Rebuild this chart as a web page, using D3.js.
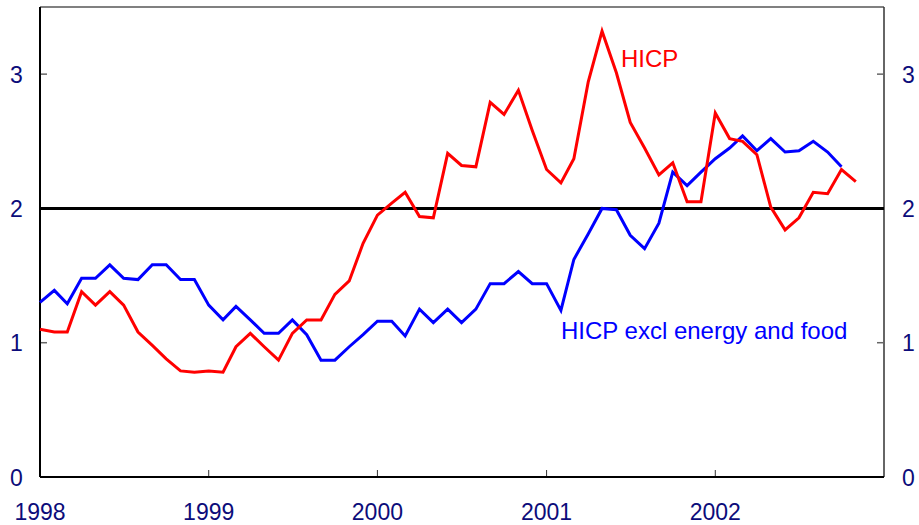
<!DOCTYPE html>
<html>
<head>
<meta charset="utf-8">
<script src="https://cdn.jsdelivr.net/npm/d3@7"></script>
<style>
    body { margin: 0; background: #fff; }
    svg { display: block; }
    text { font-family: Arial, "Liberation Sans", sans-serif; }
</style>
</head>
<body>
<svg id="visualization" width="919" height="525"></svg>
<script>
// monthly, Jan 1998 onwards
const startMonth = new Date(1998, 0, 1);
const hicp = [
    1.10, 1.08, 1.08, 1.38, 1.28, 1.38, 1.28, 1.08, 0.98, 0.88, 0.79, 0.78,
    0.79, 0.78, 0.97, 1.07, 0.97, 0.87, 1.07, 1.17, 1.17, 1.36, 1.46, 1.74,
    1.95, 2.04, 2.12, 1.94, 1.93, 2.41, 2.32, 2.31, 2.79, 2.70, 2.88, 2.58,
    2.29, 2.19, 2.37, 2.94, 3.32, 3.01, 2.64, 2.45, 2.25, 2.34, 2.05, 2.05,
    2.71, 2.52, 2.50, 2.40, 2.01, 1.84, 1.93, 2.12, 2.11, 2.29, 2.20
];
const hicpCore = [
    1.30, 1.39, 1.29, 1.48, 1.48, 1.58, 1.48, 1.47, 1.58, 1.58, 1.47, 1.47,
    1.28, 1.17, 1.27, 1.17, 1.07, 1.07, 1.17, 1.06, 0.87, 0.87, 0.97, 1.06,
    1.16, 1.16, 1.05, 1.25, 1.15, 1.25, 1.15, 1.25, 1.44, 1.44, 1.53, 1.44,
    1.44, 1.24, 1.62, 1.81, 2.00, 1.99, 1.80, 1.70, 1.89, 2.27, 2.17, 2.27,
    2.37, 2.45, 2.54, 2.43, 2.52, 2.42, 2.43, 2.50, 2.42, 2.31
];
const yearTicks = [1998, 1999, 2000, 2001, 2002];
const valueTicks = [0, 1, 2, 3];
const referenceLevel = 2;

const toSeries = values => values.map((v, i) => ({
    date: new Date(startMonth.getFullYear(), startMonth.getMonth() + i, 1),
    value: v
}));

const svg = d3.select("#visualization");

const plot = { left: 40, right: 884, top: 7, bottom: 477 };

const xScale = d3.scaleTime()
    .domain([new Date(1998, 0, 1), new Date(2003, 0, 1)])
    .range([plot.left, plot.right]);
const yScale = d3.scaleLinear()
    .domain([0, 3.5])
    .range([plot.bottom, plot.top]);

const navy = "#0c0c7a";

// frame
svg.append("line")
    .attr("x1", plot.left).attr("x2", plot.right)
    .attr("y1", plot.top).attr("y2", plot.top)
    .attr("stroke", "#808080").attr("stroke-width", 2);
svg.append("line")
    .attr("x1", plot.right).attr("x2", plot.right)
    .attr("y1", plot.top).attr("y2", plot.bottom)
    .attr("stroke", "#333").attr("stroke-width", 1.5);

// ticks
svg.selectAll(".y-tick-left")
    .data(valueTicks)
    .join("line")
    .attr("class", "y-tick-left")
    .attr("x1", plot.left).attr("x2", plot.left + 7)
    .attr("y1", d => yScale(d)).attr("y2", d => yScale(d))
    .attr("stroke", "#666").attr("stroke-width", 1.5);
svg.selectAll(".y-tick-right")
    .data(valueTicks)
    .join("line")
    .attr("class", "y-tick-right")
    .attr("x1", plot.right - 7).attr("x2", plot.right)
    .attr("y1", d => yScale(d)).attr("y2", d => yScale(d))
    .attr("stroke", "#666").attr("stroke-width", 1.5);
svg.selectAll(".x-tick")
    .data(yearTicks)
    .join("line")
    .attr("class", "x-tick")
    .attr("x1", d => xScale(new Date(d, 0, 1))).attr("x2", d => xScale(new Date(d, 0, 1)))
    .attr("y1", plot.bottom).attr("y2", plot.bottom - 7)
    .attr("stroke", "#333").attr("stroke-width", 1);

// tick labels
svg.selectAll(".y-label-left")
    .data(valueTicks)
    .join("text")
    .attr("class", "y-label-left")
    .attr("x", 16.5)
    .attr("y", d => yScale(d) + 8.5)
    .attr("text-anchor", "middle")
    .attr("font-size", 23)
    .attr("fill", navy)
    .text(d => d);
svg.selectAll(".y-label-right")
    .data(valueTicks)
    .join("text")
    .attr("class", "y-label-right")
    .attr("x", 908.5)
    .attr("y", d => yScale(d) + 8.5)
    .attr("text-anchor", "middle")
    .attr("font-size", 23)
    .attr("fill", navy)
    .text(d => d);
svg.selectAll(".x-label")
    .data(yearTicks)
    .join("text")
    .attr("class", "x-label")
    .attr("x", d => xScale(new Date(d, 0, 1)))
    .attr("y", 520)
    .attr("text-anchor", "middle")
    .attr("font-size", 23)
    .attr("fill", navy)
    .text(d => d);

// axes lines
svg.append("line")
    .attr("x1", plot.left).attr("x2", plot.left)
    .attr("y1", plot.top).attr("y2", plot.bottom)
    .attr("stroke", "#000").attr("stroke-width", 2);
svg.append("line")
    .attr("x1", plot.left).attr("x2", plot.right)
    .attr("y1", plot.bottom).attr("y2", plot.bottom)
    .attr("stroke", "#000").attr("stroke-width", 2);

// reference line at 2
svg.append("line")
    .attr("x1", plot.left).attr("x2", plot.right)
    .attr("y1", yScale(referenceLevel)).attr("y2", yScale(referenceLevel))
    .attr("stroke", "#000").attr("stroke-width", 3);

const line = d3.line()
    .x(d => xScale(d.date))
    .y(d => yScale(d.value));

const series = [
    { name: "HICP excl energy and food", values: hicpCore, colour: "#0000ff" },
    { name: "HICP", values: hicp, colour: "#ff0000" }
];

svg.selectAll(".series-line")
    .data(series)
    .join("path")
    .attr("class", "series-line")
    .attr("fill", "none")
    .attr("stroke", d => d.colour)
    .attr("stroke-width", 3)
    .attr("stroke-linejoin", "miter")
    .attr("d", d => line(toSeries(d.values)));

// labels
svg.append("text")
    .attr("x", 621)
    .attr("y", 67)
    .attr("font-size", 24)
    .attr("fill", "#ff0000")
    .text("HICP");
svg.append("text")
    .attr("x", 561)
    .attr("y", 339)
    .attr("font-size", 24)
    .attr("fill", "#0000ff")
    .text("HICP excl energy and food");
</script>
</body>
</html>
